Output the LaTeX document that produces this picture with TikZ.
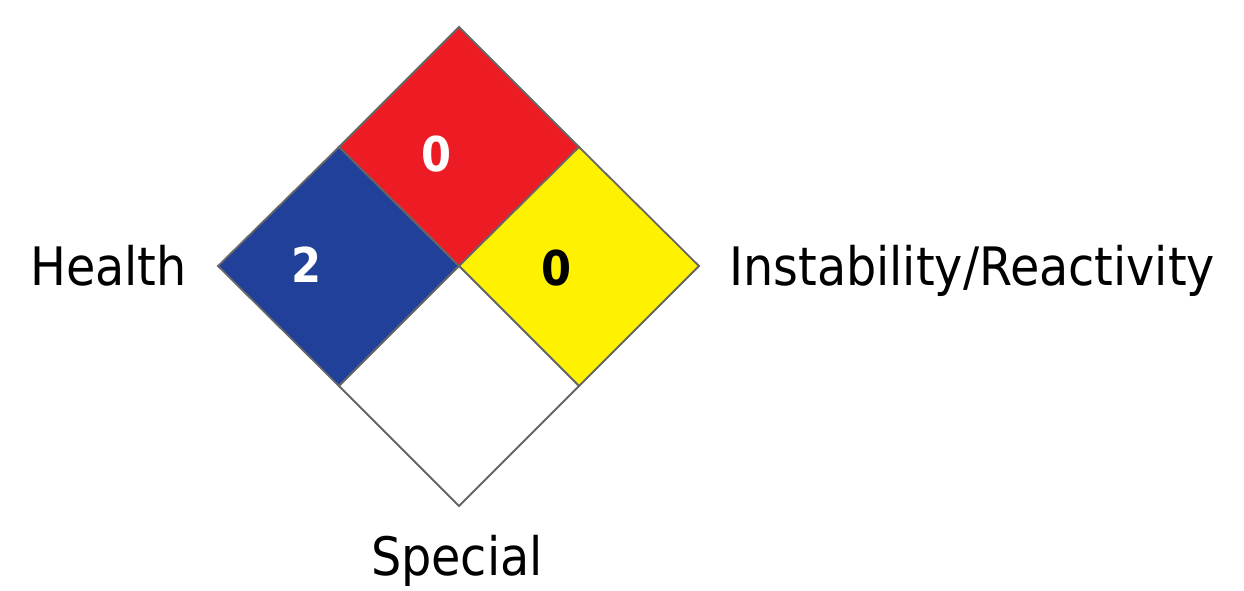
\documentclass[tikz,border=0pt]{standalone}
\usepackage{fontspec}
\setmainfont{DejaVu Sans Condensed}

\definecolor{nfpared}{HTML}{ED1C24}
\definecolor{nfpablue}{HTML}{21409A}
\definecolor{nfpayellow}{HTML}{FFF200}

\tikzset{
	label/.style={inner sep=0pt, font=\fontsize{53}{60}\selectfont},
	rating/.style={inner sep=0pt, font=\fontsize{48}{56}\selectfont\bfseries},
	quad/.style={draw=black!60, line width=1.8pt, line join=miter}
}

\begin{document}
\begin{tikzpicture}[x=1pt,y=-1pt]
	\useasboundingbox (0,0) rectangle (1244,591);

	\coordinate (top) at (459,27);
	\coordinate (lft) at (218,266);
	\coordinate (rgt) at (699,266);
	\coordinate (bot) at (459,506);
	\coordinate (c) at (459,266);
	\coordinate (tl) at (339,147);
	\coordinate (tr) at (579,147);
	\coordinate (bl) at (339,386);
	\coordinate (br) at (579,386);

	\draw[quad,fill=nfpared] (top) -- (tr) -- (c) -- (tl) -- cycle;
	\draw[quad,fill=nfpablue] (tl) -- (c) -- (bl) -- (lft) -- cycle;
	\draw[quad,fill=nfpayellow] (tr) -- (rgt) -- (br) -- (c) -- cycle;
	\draw[quad,fill=white] (c) -- (br) -- (bot) -- (bl) -- cycle;

	\node[rating,text=white] (fire) at (437,154) {0};
	\node[rating,text=white] (health) at (307,265) {2};
	\node[rating] (react) at (557,268) {0};

	\node[label,anchor=base west] (hlabel) at (30,285) {Health};
	\node[label,anchor=base west] (rlabel) at (729,285) {Instability/Reactivity};
	\node[label,anchor=base] (slabel) at (457,575) {Special};
\end{tikzpicture}
\end{document}
